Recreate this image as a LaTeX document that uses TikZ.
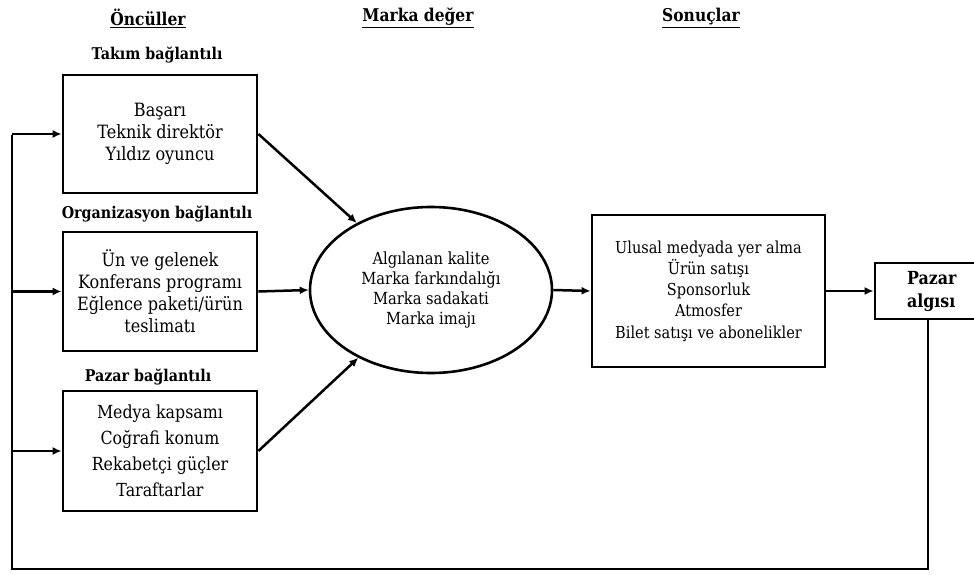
\documentclass[tikz,border=0pt]{standalone}
\usepackage{fontspec}
\setmainfont{DejaVu Serif}[FakeStretch=0.88]
\usetikzlibrary{shapes.geometric,arrows.meta}
\begin{document}
\begin{tikzpicture}[x=1pt,y=-1pt,
  box/.style={draw,line width=2.8pt,rectangle,align=center,inner sep=0pt},
  oval/.style={draw,line width=2.6pt,ellipse,align=center,inner sep=0pt,minimum width=242pt,minimum height=166pt},
  txt/.style={font=\fontsize{18.3}{22}\selectfont},
  lbl/.style={font=\bfseries\fontsize{16.2}{18}\selectfont,inner sep=0pt},
  hdr/.style={font=\bfseries\fontsize{17.6}{20}\selectfont,inner sep=0pt},
  line/.style={line width=2.5pt},
  arr/.style={line width=2.5pt,-{Latex[length=9pt,width=8pt]}}]
\useasboundingbox (0,0) rectangle (974,575);
% headers
\node[hdr] (h1) at (148,18) {\underline{Öncüller}};
\node[hdr] (h2) at (418,18) {\underline{Marka değer}};
\node[hdr] (h3) at (701,18) {\underline{Sonuçlar}};
% group labels
\node[lbl] (l1) at (157,55) {Takım bağlantılı};
\node[lbl] (l2) at (157,214) {Organizasyon bağlantılı};
\node[lbl] (l3) at (148,377) {Pazar bağlantılı};
% boxes
\node[box,txt,minimum width=194pt,minimum height=118pt] (b1) at (160,134) {Başarı\\Teknik direktör\\Yıldız oyuncu};
\node[box,txt,minimum width=194pt,minimum height=119pt] (b2) at (160,291.5) {Ün ve gelenek\\Konferans programı\\Eğlence paketi/ürün\\teslimatı};
\node[box,font=\fontsize{18}{26}\selectfont,minimum width=194pt,minimum height=120pt] (b3) at (160,451) {Medya kapsamı\\Coğrafi konum\\Rekabetçi güçler\\Taraftarlar};
\node[oval,font=\fontsize{16.7}{20}\selectfont] (e) at (431,290) {Algılanan kalite\\Marka farkındalığı\\Marka sadakati\\Marka imajı};
\node[box,font=\fontsize{16.5}{21.3}\selectfont,minimum width=233pt,minimum height=152pt] (b4) at (708.5,291) {Ulusal medyada yer alma\\Ürün satışı\\Sponsorluk\\Atmosfer\\Bilet satışı ve abonelikler};
\node[box,font=\bfseries\fontsize{18}{23}\selectfont,minimum width=110pt,minimum height=56pt,text width=100pt,align=left,inner xsep=0pt] (b5) at (930,291) {\hspace*{27pt}Pazar\\\hspace*{27pt}algısı};
% connectors
\draw[arr] (b1.east) -- (e);
\draw[arr] (b2.east) -- (e.west);
\draw[arr] (b3.east) -- (e);
\draw[arr] (e.east) -- (b4.west);
\draw[arr] (b4.east) -- (b4.east -| b5.west);
% feedback
\coordinate (fb) at (928,569);
\coordinate (fl) at (12,569);
\coordinate (t1) at (12,134);
\coordinate (t2) at (12,291.5);
\coordinate (t3) at (12,451);
\draw[line] (b5.south -| fb) -- (fb) -- (fl) -- ([yshift=-1.2pt]t1);
\draw[arr] (t1) -- (b1.west);
\draw[arr] (t2) -- (b2.west);
\draw[arr] (t3) -- (b3.west);
\end{tikzpicture}
\end{document}
